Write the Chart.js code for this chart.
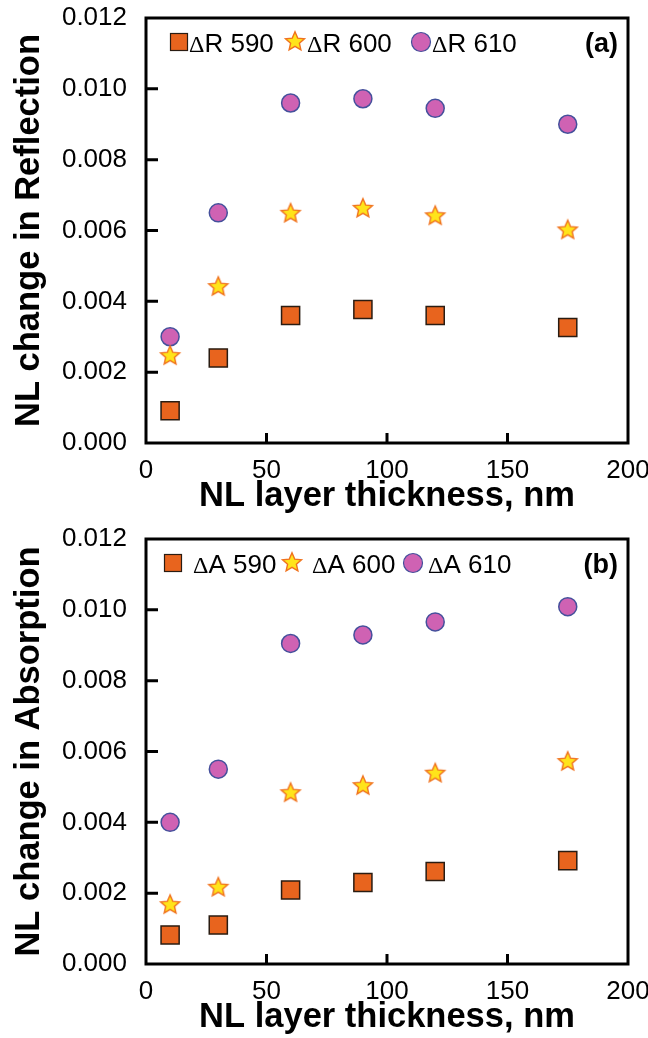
<!DOCTYPE html>
<html><head><meta charset="utf-8">
<script src="https://cdn.jsdelivr.net/npm/chart.js@4.4.1/dist/chart.umd.min.js"></script>
<style>
html,body{margin:0;padding:0;background:#fff;overflow:hidden;width:648px;height:1038px}
canvas{position:absolute;left:0}
#c1{top:0}
#c2{top:521px}
</style></head><body>
<canvas id="c1" width="648" height="521"></canvas>
<canvas id="c2" width="648" height="521"></canvas>
<script>
// ---- data ----
const thickness = [10, 30, 60, 90, 120, 175];
const xTicks = [0, 50, 100, 150, 200];
const yTicks = [0, 0.002, 0.004, 0.006, 0.008, 0.010, 0.012];

const labelsR = ['\u0394R 590', '\u0394R 600', '\u0394R 610'];
const dR590 = [0.00091, 0.0024, 0.0036, 0.00377, 0.0036, 0.00326];
const dR600 = [0.00248, 0.00443, 0.0065, 0.00664, 0.00643, 0.00603];
const dR610 = [0.0030, 0.0065, 0.0096, 0.00972, 0.00945, 0.0090];

const labelsA = ['\u0394A 590', '\u0394A 600', '\u0394A 610'];
const dA590 = [0.00082, 0.0011, 0.00209, 0.0023, 0.00261, 0.00292];
const dA600 = [0.00169, 0.00218, 0.00485, 0.00505, 0.0054, 0.00573];
const dA610 = [0.0040, 0.0055, 0.00905, 0.00929, 0.00966, 0.01009];

// ---- styles ----
const FONT = '"Liberation Sans", Arial, Helvetica, sans-serif';
const SERIF = '"Liberation Serif", "Times New Roman", serif';
const SQ_FILL = '#E8641E', SQ_LINE = '#2a1c12';
const ST_FILL = '#FFE41A', ST_LINE = '#F0721E';
const CI_FILL = '#CF62B3', CI_LINE = '#45509C';

function makeStar(outer) {
  const c = document.createElement('canvas');
  const s = Math.ceil(outer * 2 + 4);
  c.width = s; c.height = s;
  const g = c.getContext('2d');
  const cx = s / 2, cy = s / 2 + 0.8, inner = outer * 0.46;
  g.beginPath();
  for (let i = 0; i < 10; i++) {
    const r = i % 2 === 0 ? outer : inner;
    const a = -Math.PI / 2 + i * Math.PI / 5;
    const px = cx + r * Math.cos(a), py = cy + r * Math.sin(a);
    if (i === 0) g.moveTo(px, py); else g.lineTo(px, py);
  }
  g.closePath();
  g.fillStyle = ST_FILL; g.fill();
  g.lineWidth = 1.4; g.strokeStyle = ST_LINE; g.lineJoin = 'miter'; g.stroke();
  return c;
}
const starImg = makeStar(10);

const framePlugin = {
  id: 'frame',
  beforeDatasetsDraw(chart) {
    const {ctx, chartArea: a, scales} = chart;
    ctx.save();
    ctx.strokeStyle = '#000';
    ctx.lineWidth = 3;
    ctx.lineCap = 'butt';
    ctx.beginPath();
    xTicks.forEach(v => {
      if (v === xTicks[0] || v === xTicks[xTicks.length - 1]) return;
      const px = scales.x.getPixelForValue(v);
      ctx.moveTo(px, a.bottom); ctx.lineTo(px, a.bottom - 10);
    });
    yTicks.forEach(v => {
      if (v === yTicks[0] || v === yTicks[yTicks.length - 1]) return;
      const py = scales.y.getPixelForValue(v);
      ctx.moveTo(a.left, py); ctx.lineTo(a.left + 12, py);
    });
    ctx.stroke();
    ctx.strokeRect(a.left, a.top, a.right - a.left, a.bottom - a.top);
    ctx.restore();
  }
};

const legendPlugin = {
  id: 'panelLegend',
  afterDraw(chart, args, opts) {
    const {ctx} = chart;
    ctx.save();
    const yc = opts.y;
    const it = opts.items;
    // square
    ctx.fillStyle = SQ_FILL; ctx.strokeStyle = SQ_LINE; ctx.lineWidth = 1.2;
    ctx.fillRect(it[0].mx - 8.5, yc - 8.5, 17, 17);
    ctx.strokeRect(it[0].mx - 8.5, yc - 8.5, 17, 17);
    // star
    ctx.drawImage(starImg, it[1].mx - starImg.width / 2, yc - starImg.height / 2 - 1);
    // circle
    ctx.beginPath(); ctx.arc(it[2].mx, yc, 9.5, 0, Math.PI * 2);
    ctx.fillStyle = CI_FILL; ctx.fill();
    ctx.strokeStyle = CI_LINE; ctx.lineWidth = 1.2; ctx.stroke();
    ctx.fillStyle = '#000';
    ctx.textBaseline = 'alphabetic';
    ctx.textAlign = 'left';
    it.forEach((o, i) => {
      const txt = opts.labels[i];
      ctx.font = '24px ' + SERIF;
      ctx.fillText(txt[0], o.tx, yc + 10);
      const w = ctx.measureText(txt[0]).width;
      ctx.font = '26px ' + FONT;
      ctx.fillText(txt.slice(1), o.tx + w, yc + 10);
    });
    ctx.font = 'bold 27px ' + FONT;
    ctx.textAlign = 'right';
    ctx.fillText(opts.panel, 618, yc + 10);
    ctx.restore();
  }
};

function makeChart(id, labels, s1, s2, s3, yTitle, panel, items) {
  const ds = (label, data, extra) => Object.assign({
    label, data: thickness.map((x, i) => ({x, y: data[i]})),
    showLine: false
  }, extra);
  return new Chart(document.getElementById(id), {
    type: 'scatter',
    data: {
      datasets: [
        ds(labels[0], s1, {pointStyle: 'rect', pointRadius: 12.8, pointHoverRadius: 12.8,
          backgroundColor: SQ_FILL, borderColor: SQ_LINE, borderWidth: 1.5}),
        ds(labels[1], s2, {pointStyle: starImg, pointRadius: 10,
          backgroundColor: ST_FILL, borderColor: ST_LINE}),
        ds(labels[2], s3, {pointStyle: 'circle', pointRadius: 9, pointHoverRadius: 9,
          backgroundColor: CI_FILL, borderColor: CI_LINE, borderWidth: 1.5})
      ]
    },
    options: {
      responsive: false,
      animation: false,
      events: [],
      layout: {padding: {left: 0, top: 18, right: 20, bottom: 0}},
      plugins: {
        legend: {display: false},
        tooltip: {enabled: false},
        panelLegend: {labels, panel, items, y: 42}
      },
      scales: {
        x: {
          type: 'linear', min: 0, max: 200,
          ticks: {stepSize: 50, autoSkip: false, maxRotation: 0, padding: 4,
            font: {size: 26, family: FONT}, color: '#000',
            callback: v => String(v)},
          afterBuildTicks: s => { s.ticks = xTicks.map(v => ({value: v})); },
          grid: {display: false},
          border: {display: false},
          title: {display: true, text: 'NL layer thickness, nm', color: '#000',
            font: {size: 34.5, weight: 'bold', family: FONT}, padding: {top: 0, bottom: 4}},
          afterFit: s => { s.height = 78; s.paddingLeft = 0; s.paddingRight = 0; }
        },
        y: {
          type: 'linear', min: 0, max: 0.012,
          ticks: {padding: 11, font: {size: 26, family: FONT}, color: '#000',
            callback: v => Number(v).toFixed(3)},
          afterBuildTicks: s => { s.ticks = yTicks.map(v => ({value: v})); },
          grid: {display: false},
          border: {display: false},
          title: {display: true, text: yTitle, color: '#000',
            font: {size: 34.5, weight: 'bold', family: FONT}, padding: {top: 9, bottom: 0}},
          afterFit: s => { s.width = 146; s.paddingTop = 0; s.paddingBottom = 0; }
        }
      }
    },
    plugins: [framePlugin, legendPlugin]
  });
}

makeChart('c1', labelsR, dR590, dR600, dR610, 'NL change in Reflection', '(a)',
  [{mx: 179, tx: 189}, {mx: 295, tx: 307}, {mx: 421, tx: 432}]);
makeChart('c2', labelsA, dA590, dA600, dA610, 'NL change in Absorption', '(b)',
  [{mx: 173, tx: 193}, {mx: 292, tx: 312}, {mx: 413, tx: 428}]);
</script>
</body></html>
